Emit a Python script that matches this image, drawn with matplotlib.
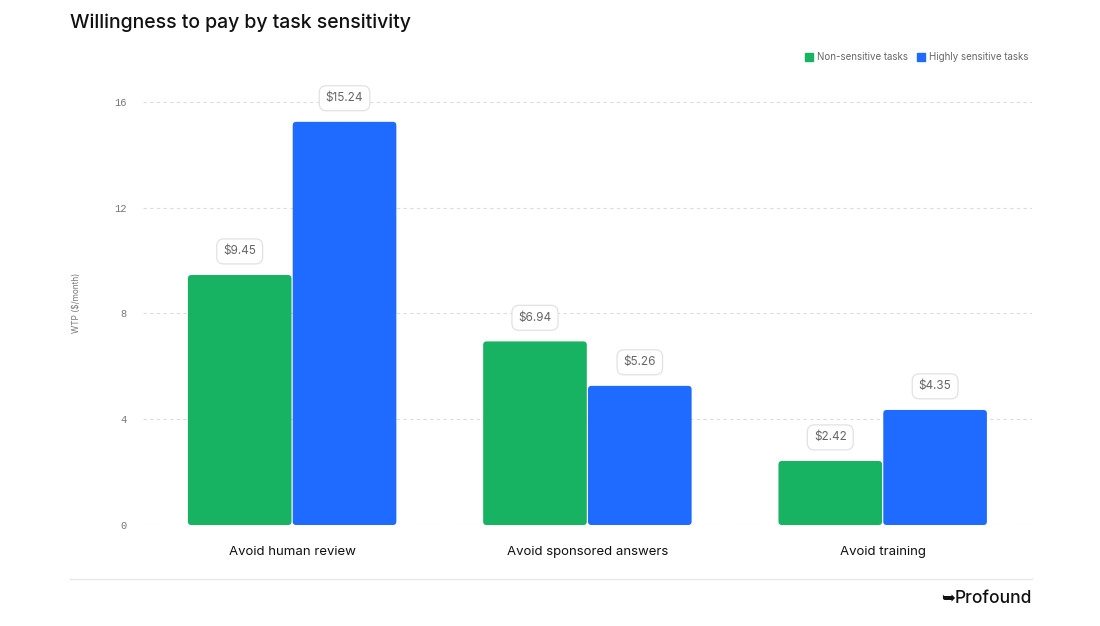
import matplotlib
matplotlib.use("Agg")
import matplotlib.pyplot as plt
from matplotlib.patches import FancyBboxPatch
from matplotlib.lines import Line2D
import numpy as np

categories = ["Avoid human review", "Avoid sponsored answers", "Avoid training"]
non_sensitive = [9.45, 6.94, 2.42]
highly_sensitive = [15.24, 5.26, 4.35]
series_names = ["Non-sensitive tasks", "Highly sensitive tasks"]
yticks = [0, 4, 8, 12, 16]

green = "#17B262"
blue = "#1F6BFF"

plt.rcParams['font.family'] = ['Inter', 'DejaVu Sans']

fig = plt.figure(figsize=(11, 6.26), dpi=100)
ax = fig.add_axes([0.13, 0.1613, 0.808, 0.71])

x = np.arange(len(categories))
w = 0.355
ylim_top = 16.8
ax.set_xlim(-0.505, 2.505)
ax.set_ylim(0, ylim_top)

# aspect for rounded corners (data units per pixel in y vs x)
bbox = ax.get_position()
px_w = bbox.width * 1100
px_h = bbox.height * 626
xu = 3.01 / px_w
yu = ylim_top / px_h
r = 3.5 * xu

for vals, off, col in [(non_sensitive, -w / 2, green), (highly_sensitive, w / 2, blue)]:
    bars = ax.bar(x + off, vals, width=w, color=col, alpha=0)
    for b, v in zip(bars, vals):
        p = FancyBboxPatch((b.get_x() + 0.002, 0), b.get_width() - 0.004, v,
                           boxstyle=f"round,pad=0,rounding_size={r}",
                           mutation_aspect=yu / xu, facecolor=col,
                           edgecolor="none", zorder=3)
        ax.add_patch(p)
        ax.annotate(f"${v:.2f}", (b.get_x() + b.get_width() / 2, v),
                    xytext=(0, 17), textcoords="offset points",
                    ha="center", va="center", fontsize=8.5, color="#666666",
                    bbox=dict(boxstyle="round,pad=0.55,rounding_size=0.6",
                              fc="white", ec="#e2e2e2", lw=0.9), zorder=4)

ax.set_yticks(yticks)
ax.set_yticklabels([str(t) for t in yticks], fontfamily="Liberation Mono",
                   fontsize=7.5, color="#777777")
ax.yaxis.grid(True, linestyle=(0, (3, 3)), color="#dddddd", lw=0.8, zorder=0)
ax.tick_params(axis="y", length=0, pad=12)
ax.set_xticks(x)
ax.set_xticklabels(categories, fontsize=9.5, color="#111111")
ax.tick_params(axis="x", length=0, pad=15)
for s in ax.spines.values():
    s.set_visible(False)

ax.set_ylabel("WTP ($/month)", fontsize=6, color="#777777")
ax.yaxis.set_label_coords(-0.07, 0.5)

fig.text(0.0636, 0.963, "Willingness to pay by task sensitivity", fontsize=14,
         color="#111111", va="center", ha="left", weight="medium")

handles = [Line2D([], [], marker="s", ls="none", markersize=6, color=green),
           Line2D([], [], marker="s", ls="none", markersize=6, color=blue)]
fig.legend(handles, series_names, loc="center right", bbox_to_anchor=(0.943, 0.909),
           ncol=2, frameon=False, fontsize=7, labelcolor="#666666",
           handletextpad=0.4, columnspacing=1.0, handlelength=0.8)

fig.add_artist(Line2D([0.0636, 0.938], [0.075, 0.075], color="#e6e6e6", lw=0.9))
fig.text(0.938, 0.044, "Profound", fontsize=12.5, color="#111111",
         ha="right", va="center", weight="medium")
fig.text(0.8615, 0.044, "\u27a5", fontsize=12, color="#111111",
         ha="center", va="center", family="DejaVu Sans", weight="bold")

fig.savefig("out.png", dpi=100)
